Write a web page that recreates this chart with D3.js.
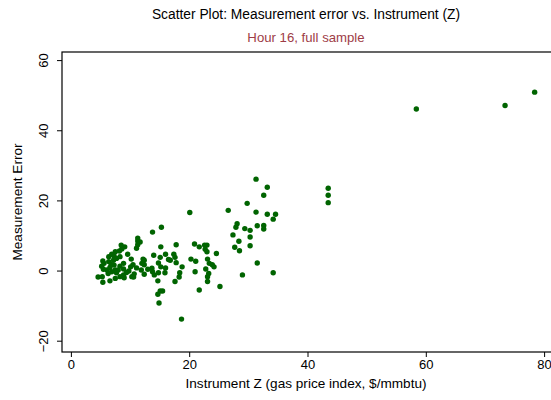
<!DOCTYPE html>
<html>
<head>
<meta charset="utf-8">
<script src="https://cdn.jsdelivr.net/npm/d3@7"></script>
<style>
  body { margin: 0; background: #fff; }
  text { font-family: "Liberation Sans", Arial, sans-serif; }
</style>
</head>
<body>
<script>
var zVals = [58.4, 73.4, 78.4, 43.5, 43.5, 43.5,
    31.3, 33.2, 32.6, 31.3, 33.2, 34.6, 34.2, 31.5, 32.6, 32.6, 30.3, 30.3, 30.3, 31.5, 34.2,
    29.8, 26.6, 28.1, 27.9, 29.4,
    20.1, 13.8, 15.3, 27.4, 28.4, 27.7, 28.5, 11.7, 15.2, 17.8, 20.9, 22.6, 23.0, 22.7, 23.0, 21.7, 24.6, 14.0, 16.0, 17.4, 20.3, 23.1, 12.2,
    16.8, 18.8, 21.1, 23.4, 23.9, 24.2, 22.8, 23.3, 23.1, 23.1, 21.0, 18.4, 18.3, 17.6, 21.7, 25.2, 29.0,
    11.3, 11.3, 11.1, 9.1, 8.6, 8.2, 7.5, 6.9, 7.3, 6.4, 5.4, 15.1, 16.5, 17.6, 17.8, 14.8, 15.2, 16.0, 15.9, 14.8,
    13.8, 13.0, 12.4, 11.9, 11.1, 10.5, 10.1, 9.8, 10.7, 10.6, 12.4, 8.9, 8.3, 8.9, 7.3, 6.6, 6.1, 5.5, 5.2, 5.6,
    6.4, 7.2, 7.7, 8.3, 6.3, 6.9, 7.7, 7.5, 8.0, 4.6, 5.3, 5.4, 6.6, 8.9, 9.0, 14.1, 14.7, 15.1, 14.7, 15.5, 14.9, 18.7,
    12.4, 12.0, 13.7, 7.5, 8.3, 10.3, 11.3, 8.5, 9.6, 10.2, 6.8, 9.4];
var errVals = [46.2, 47.2, 51.0, 23.6, 21.6, 19.5,
    26.2, 23.9, 21.6, 16.8, 16.2, 16.2, 14.8, 12.9, 13.0, 12.0, 11.6, 9.7, 7.2, 2.3, -0.5,
    19.3, 17.3, 13.5, 12.5, 12.1,
    16.7, 11.1, 12.5, 10.3, 8.5, 6.8, 5.8, 8.3, 6.9, 7.5, 7.7, 7.4, 7.4, 6.2, 5.5, 6.9, 5.0, 4.5, 4.8, 4.8, 3.4, 3.4, 3.4,
    3.1, 1.2, 2.8, 2.2, 1.8, 1.2, 0.6, -0.7, -1.6, -3.0, -0.2, -0.5, -1.7, -3.0, -5.4, -4.4, -1.1,
    8.6, 7.5, 6.5, 6.9, 6.3, 5.7, 5.5, 4.8, 4.3, 4.1, 2.9, 3.9, 3.3, 3.9, 2.4, 2.3, 1.2, 0.9, -0.5, -0.5,
    -0.2, 0.5, 1.8, 0.3, 0.9, 1.8, 1.2, 0.0, -0.8, -1.7, -0.9, 0.6, 1.4, 2.2, 1.7, 1.0, 0.3, 0.5, 1.4, 2.2,
    2.7, 3.1, 3.6, 4.1, -0.7, -0.2, -0.5, 0.3, 0.3, -1.7, -1.6, -3.2, -2.8, -1.1, -1.9, -1.1, -2.8, -5.7, -6.6, -5.7, -9.1, -13.7,
    3.1, 2.2, 0.8, -2.1, -1.6, -1.6, 9.4, 7.4, 4.8, 3.4, 1.9, -0.4];
var xTicks = [0, 20, 40, 60, 80];
var yTicks = [-20, 0, 20, 40, 60];

var W = 551, H = 400;
var svg = d3.select("body").append("svg").attr("width", W).attr("height", H);

var x = d3.scaleLinear().domain([0, 80]).range([70.9, 544.1]);
var y = d3.scaleLinear().domain([-20, 60]).range([341.2, 60.6]);

var plotLeft = 62, plotTop = 52, plotBottom = 352;

// plot region outline (right edge runs past the picture)
svg.append("rect")
    .attr("x", plotLeft).attr("y", plotTop)
    .attr("width", 600).attr("height", plotBottom - plotTop)
    .attr("fill", "none").attr("stroke", "#000").attr("stroke-width", 1.2);

var xAxis = svg.append("g").attr("transform", "translate(0," + plotBottom + ")")
    .call(d3.axisBottom(x).tickValues(xTicks).tickSize(5).tickPadding(3));
var yAxis = svg.append("g").attr("transform", "translate(" + plotLeft + ",0)")
    .call(d3.axisLeft(y).tickValues(yTicks).tickSize(5).tickPadding(3));

[xAxis, yAxis].forEach(function(g){
    g.select(".domain").remove();
    g.selectAll("line").attr("stroke", "#000").attr("stroke-width", 1);
    g.selectAll("text").attr("fill", "#000").style("font-size", "13px")
        .style("font-family", '"Liberation Sans", Arial, sans-serif');
});

// y tick labels stand on end, like Stata's
yAxis.selectAll(".tick").attr("transform", "translate(0,0)");
yAxis.selectAll(".tick line").attr("y1", function(d){ return y(d); }).attr("y2", function(d){ return y(d); });
yAxis.selectAll("text")
    .attr("x", null).attr("dy", null).attr("y", 0)
    .attr("text-anchor", "middle")
    .attr("dominant-baseline", "central")
    .attr("transform", function(d){ return "translate(-19," + y(d) + ") rotate(-90)"; });

svg.append("g").selectAll("circle")
    .data(zVals.map(function(z, i){ return {z: z, e: errVals[i]}; }))
    .enter().append("circle")
    .attr("cx", function(d){ return x(d.z); })
    .attr("cy", function(d){ return y(d.e); })
    .attr("r", 2.7)
    .attr("fill", "#006400");

svg.append("text").attr("x", 306).attr("y", 19).attr("text-anchor", "middle")
    .style("font-size", "13.8px").attr("fill", "#000")
    .text("Scatter Plot: Measurement error vs. Instrument (Z)");
svg.append("text").attr("x", 306).attr("y", 42).attr("text-anchor", "middle")
    .style("font-size", "13.2px").attr("fill", "#9e3c46")
    .text("Hour 16, full sample");
svg.append("text").attr("x", 306).attr("y", 388).attr("text-anchor", "middle")
    .style("font-size", "13.6px").attr("fill", "#000")
    .text("Instrument Z (gas price index, $/mmbtu)");
svg.append("text").attr("transform", "translate(22,202) rotate(-90)").attr("text-anchor", "middle")
    .style("font-size", "13.6px").attr("fill", "#000")
    .text("Measurement Error");
</script>
</body>
</html>
